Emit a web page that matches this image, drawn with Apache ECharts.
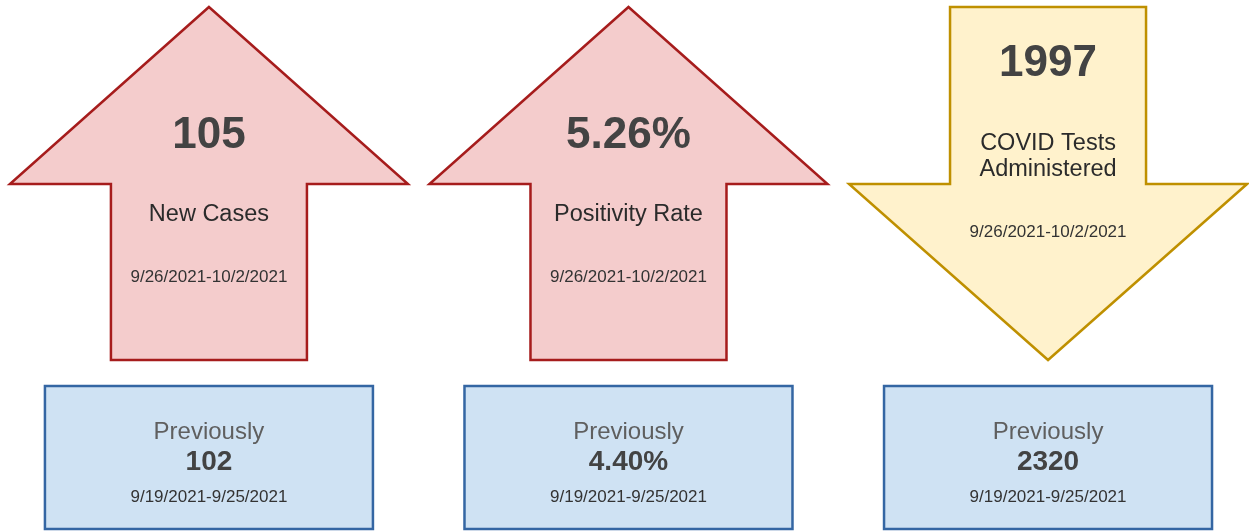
<!DOCTYPE html>
<html>
<head>
<meta charset="utf-8">
<script src="https://cdn.jsdelivr.net/npm/echarts@6/dist/echarts.min.js"></script>
<style>
  html, body { margin: 0; padding: 0; background: #ffffff; }
  #main { width: 1249px; height: 531px; }
</style>
</head>
<body>
<div id="main"></div>
<script>
// ---- data ----
const metrics = ['New Cases', 'Positivity Rate', 'COVID Tests\nAdministered'];
const currentValues = [105, 5.26, 1997];
const previousValues = [102, 4.40, 2320];
const valueUnits = ['', '%', ''];
const valueDecimals = [0, 2, 0];
const currentPeriod = '9/26/2021-10/2/2021';
const previousPeriod = '9/19/2021-9/25/2021';
const previousLabel = 'Previously';

// ---- styles ----
const FONT = '"Liberation Sans", Arial, Helvetica, sans-serif';
const UP = { fill: '#f4cccc', stroke: '#a61c1c' };
const DOWN = { fill: '#fff2cc', stroke: '#bf9000' };
const BOX = { fill: '#cfe2f3', stroke: '#3466a3' };

function fmt(i, v) {
  return v.toFixed(valueDecimals[i]) + valueUnits[i];
}

const chart = echarts.init(document.getElementById('main'), null, { renderer: 'canvas' });

function renderItem(params, api) {
  const i = api.value(0);
  const cx = api.coord([i, 0])[0];
  const up = currentValues[i] > previousValues[i];
  const col = up ? UP : DOWN;
  const top = 7, mid = 184, bot = 360, hh = 199, hs = 98;
  const pts = up
    ? [[cx, top], [cx + hh, mid], [cx + hs, mid], [cx + hs, bot], [cx - hs, bot], [cx - hs, mid], [cx - hh, mid]]
    : [[cx - hs, top], [cx + hs, top], [cx + hs, mid], [cx + hh, mid], [cx, bot], [cx - hh, mid], [cx - hs, mid]];
  const valueY = up ? 136 : 64;
  const labelY = up ? 214.5 : 157;
  const dateY = up ? 277 : 232;
  const bx0 = cx - 164, bw = 328, by0 = 386, bh = 143;
  return {
    type: 'group',
    children: [
      { type: 'polygon', shape: { points: pts },
        style: { fill: col.fill, stroke: col.stroke, lineWidth: 2.5, lineJoin: 'miter' } },
      { type: 'text', x: cx, y: valueY,
        style: { text: fmt(i, currentValues[i]), fill: '#434343', font: 'bold 44px ' + FONT,
                 align: 'center', verticalAlign: 'middle' } },
      { type: 'text', x: cx, y: labelY,
        style: { text: metrics[i], fill: '#2b2b2b', font: '23.5px ' + FONT, lineHeight: 26,
                 align: 'center', verticalAlign: 'middle' } },
      { type: 'text', x: cx, y: dateY,
        style: { text: currentPeriod, fill: '#333333', font: '17px ' + FONT,
                 align: 'center', verticalAlign: 'middle' } },
      { type: 'rect', shape: { x: bx0, y: by0, width: bw, height: bh },
        style: { fill: BOX.fill, stroke: BOX.stroke, lineWidth: 2.5 } },
      { type: 'text', x: cx, y: 432,
        style: { text: previousLabel, fill: '#5f5f5f', font: '24px ' + FONT,
                 align: 'center', verticalAlign: 'middle' } },
      { type: 'text', x: cx, y: 462,
        style: { text: fmt(i, previousValues[i]), fill: '#434343', font: 'bold 28px ' + FONT,
                 align: 'center', verticalAlign: 'middle' } },
      { type: 'text', x: cx, y: 497.5,
        style: { text: previousPeriod, fill: '#333333', font: '17px ' + FONT,
                 align: 'center', verticalAlign: 'middle' } }
    ]
  };
}

chart.setOption({
  animation: false,
  backgroundColor: '#ffffff',
  grid: { left: 0, right: 0, top: 0, bottom: 0 },
  xAxis: { type: 'value', min: -0.498, max: 2.479, show: false },
  yAxis: { type: 'value', min: 0, max: 531, inverse: true, show: false },
  series: [{
    type: 'custom',
    clip: false,
    renderItem: renderItem,
    encode: { x: 0, y: 1 },
    data: metrics.map((m, i) => [i, 0])
  }]
});
</script>
</body>
</html>
